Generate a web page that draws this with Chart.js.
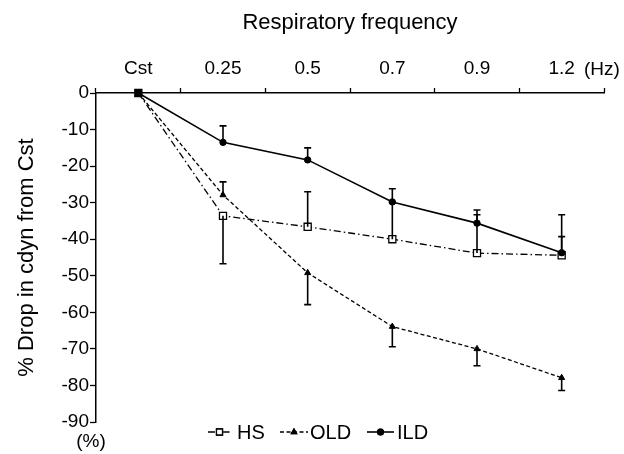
<!DOCTYPE html>
<html lang="en">
<head>
    <meta charset="UTF-8">
    <title>Respiratory frequency</title>
    <style>
        body {
            margin: 0;
            padding: 0;
            background-color: #ffffff;
        }
        .container {
            width: 624px;
            height: 454px;
            position: relative;
        }
    </style>
</head>
<body>

<div class="container">
    <canvas id="dropChart"></canvas>
</div>

<script src="https://cdn.jsdelivr.net/npm/chart.js"></script>
<script>
    // data
    const categories = ['Cst', '0.25', '0.5', '0.7', '0.9', '1.2'];

    const hsValues  = [0, -33.6, -36.6, -40.0, -43.8, -44.4];
    const hsErr     = [null, -46.7, -27.0, -30.0, -33.3, -39.3];

    const oldValues = [0, -27.9, -49.2, -63.9, -70.0, -77.9];
    const oldErr    = [null, -24.3, -57.9, -69.4, -74.6, -81.4];

    const ildValues = [0, -13.5, -18.3, -29.8, -35.6, -43.7];
    const ildErr    = [null, -9.0, -15.0, -26.2, -32.0, -33.3];

    const yMin = -90;
    const yMax = 0;
    const yStep = 10;

    const FONT = "'Liberation Sans', Arial, sans-serif";

    // vertical error bars, drawn through the y scale
    const errorBars = {
        id: 'errorBars',
        afterDatasetsDraw(chart) {
            const ctx = chart.ctx;
            const yScale = chart.scales.y;
            chart.data.datasets.forEach((ds, i) => {
                const meta = chart.getDatasetMeta(i);
                ds.errors.forEach((e, j) => {
                    if (e === null) return;
                    const pt = meta.data[j];
                    const yEnd = yScale.getPixelForValue(e);
                    ctx.save();
                    ctx.strokeStyle = '#000';
                    ctx.lineWidth = 1.6;
                    ctx.setLineDash([]);
                    ctx.beginPath();
                    ctx.moveTo(pt.x, pt.y);
                    ctx.lineTo(pt.x, yEnd);
                    ctx.moveTo(pt.x - 3.5, yEnd);
                    ctx.lineTo(pt.x + 3.5, yEnd);
                    ctx.stroke();
                    ctx.restore();
                });
            });
        }
    };

    // extra labels and the line+marker legend under the plot
    const extras = {
        id: 'extras',
        afterDraw(chart) {
            const ctx = chart.ctx;
            const area = chart.chartArea;
            ctx.save();
            ctx.fillStyle = '#000';
            ctx.font = '19px ' + FONT;
            ctx.textBaseline = 'middle';
            ctx.textAlign = 'left';
            ctx.fillText('(Hz)', 584, 70);
            ctx.textAlign = 'center';
            ctx.fillText('(%)', 91, area.bottom + 20);

            const legendY = 432;
            const items = [
                { ds: chart.data.datasets[0], x0: 208, x1: 231, text: 'HS', tx: 237, fill: '#fff' },
                { ds: chart.data.datasets[1], x0: 280, x1: 308, text: 'OLD', tx: 310, fill: '#000' },
                { ds: chart.data.datasets[2], x0: 367, x1: 394, text: 'ILD', tx: 397, fill: '#000' }
            ];
            items.forEach(it => {
                ctx.strokeStyle = '#000';
                ctx.lineWidth = it.ds.borderWidth;
                ctx.setLineDash(it.ds.borderDash || []);
                ctx.beginPath();
                ctx.moveTo(it.x0, legendY);
                ctx.lineTo(it.x1, legendY);
                ctx.stroke();
                ctx.setLineDash([]);
                Chart.helpers.drawPoint(ctx, {
                    pointStyle: it.ds.pointStyle,
                    radius: it.ds.pointRadius * 0.85,
                    borderWidth: 1.2,
                    rotation: 0
                }, (it.x0 + it.x1) / 2, legendY);
                ctx.fillStyle = it.fill;
                ctx.strokeStyle = '#000';
                ctx.fill();
                ctx.stroke();
                ctx.fillStyle = '#000';
                ctx.font = '20px ' + FONT;
                ctx.textAlign = 'left';
                ctx.fillText(it.text, it.tx, legendY + 1);
            });
            ctx.restore();
        }
    };

    const ctx = document.getElementById('dropChart').getContext('2d');

    new Chart(ctx, {
        type: 'line',
        data: {
            labels: categories,
            datasets: [
                {
                    label: 'HS',
                    data: hsValues,
                    errors: hsErr,
                    order: 2,
                    borderColor: '#000',
                    borderWidth: 1.3,
                    borderDash: [7, 3, 1.5, 3],
                    pointStyle: 'rect',
                    pointRadius: 5,
                    pointBackgroundColor: ['#000', '#fff', '#fff', '#fff', '#fff', '#fff'],
                    pointBorderColor: '#000',
                    pointBorderWidth: 1.3,
                    tension: 0
                },
                {
                    label: 'OLD',
                    data: oldValues,
                    errors: oldErr,
                    order: 1,
                    borderColor: '#000',
                    borderWidth: 1.3,
                    borderDash: [4, 2.5],
                    pointStyle: 'triangle',
                    pointRadius: 3.5,
                    pointBackgroundColor: '#000',
                    pointBorderColor: '#000',
                    pointBorderWidth: 1,
                    tension: 0
                },
                {
                    label: 'ILD',
                    data: ildValues,
                    errors: ildErr,
                    order: 0,
                    borderColor: '#000',
                    borderWidth: 1.6,
                    pointStyle: 'circle',
                    pointRadius: 3.2,
                    pointBackgroundColor: '#000',
                    pointBorderColor: '#000',
                    pointBorderWidth: 1,
                    tension: 0
                }
            ]
        },
        options: {
            responsive: true,
            maintainAspectRatio: false,
            animation: false,
            clip: false,
            layout: {
                padding: { top: 0, left: 0, right: 20, bottom: 32 }
            },
            plugins: {
                legend: { display: false },
                tooltip: { enabled: false }
            },
            scales: {
                x: {
                    type: 'category',
                    position: 'top',
                    offset: true,
                    afterFit: scale => { scale.height = 93; },
                    grid: {
                        drawOnChartArea: false,
                        drawTicks: true,
                        tickLength: 5,
                        tickWidth: 1.3,
                        tickColor: '#000',
                        offset: true
                    },
                    border: { display: true, color: '#000', width: 1.5 },
                    ticks: {
                        color: '#000',
                        padding: 8,
                        maxRotation: 0,
                        font: { family: FONT, size: 19 }
                    },
                    title: {
                        display: true,
                        text: 'Respiratory frequency',
                        color: '#000',
                        padding: { top: 10, bottom: 0 },
                        font: { family: FONT, size: 22 }
                    }
                },
                y: {
                    min: yMin,
                    max: yMax,
                    afterFit: scale => { scale.width = 96; },
                    grid: {
                        drawOnChartArea: false,
                        drawTicks: true,
                        tickLength: 6,
                        tickWidth: 1.3,
                        tickColor: '#000'
                    },
                    border: { display: true, color: '#000', width: 1.5 },
                    ticks: {
                        stepSize: yStep,
                        color: '#000',
                        padding: 1,
                        font: { family: FONT, size: 19 }
                    },
                    title: {
                        display: true,
                        text: '% Drop in cdyn from Cst',
                        color: '#000',
                        padding: { top: 14, bottom: 0 },
                        font: { family: FONT, size: 22 }
                    }
                }
            }
        },
        plugins: [errorBars, extras]
    });
</script>

</body>
</html>
